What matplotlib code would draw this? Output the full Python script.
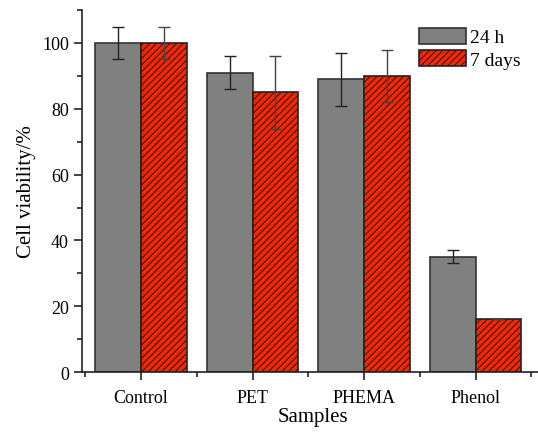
import numpy as np
import matplotlib
matplotlib.use("Agg")
import matplotlib.pyplot as plt
from matplotlib.ticker import MultipleLocator

plt.rcParams['font.family'] = ['Liberation Serif', 'DejaVu Serif']
plt.rcParams['hatch.linewidth'] = 0.8

# Данные
samples = ["Control", "PET", "PHEMA", "Phenol"]
h24 = [100, 91, 89, 35]
h24_err = [5, 5, 8, 2]
d7 = [100, 85, 90, 16]
d7_err = [5, 11, 8, 0]

x = np.arange(len(samples))
w = 0.41

fig = plt.figure(figsize=(5.38, 4.35), dpi=100)
ax = fig.add_axes([0.1524, 0.1425, 0.86, 0.832])

ax.bar(x - w / 2, h24, w, color="#808080", edgecolor="#333333", linewidth=1.2,
       label="24 h", zorder=2)
ax.bar(x + w / 2, d7, w, color="#ff2400", edgecolor="#222222", linewidth=1.2,
       hatch="/////", label="7 days", zorder=2)

ax.errorbar(x - w / 2, h24, yerr=h24_err, fmt="none", ecolor="#222222",
            elinewidth=1.0, capsize=4, capthick=1.0, zorder=3)
ax.errorbar(x + w / 2, d7, yerr=d7_err, fmt="none", ecolor="#444444",
            elinewidth=1.0, capsize=4, capthick=1.0, zorder=3)

ax.set_xlim(-0.53, 3.62)
ax.set_ylim(0, 110)
ax.set_xticks(x)
ax.set_xticklabels(samples)
ax.set_xticks(np.append(x - 0.5, 3.5), minor=True)
ax.yaxis.set_major_locator(MultipleLocator(20))
ax.yaxis.set_minor_locator(MultipleLocator(10))

ax.spines['top'].set_visible(False)
ax.spines['right'].set_visible(False)
for s in ('left', 'bottom'):
    ax.spines[s].set_linewidth(1.2)
    ax.spines[s].set_color("#222222")

ax.tick_params(axis='both', which='major', direction='out', length=6, width=1.2,
               labelsize=13, colors="#222222", labelcolor="black")
ax.tick_params(axis='x', which='major', pad=6)
ax.tick_params(axis='both', which='minor', direction='out', length=3.5, width=1.2,
               colors="#222222")

ax.set_xlabel("Samples", fontsize=15, labelpad=1)
ax.set_ylabel("Cell viability/%", fontsize=15)

ax.legend(loc="upper right", bbox_to_anchor=(0.985, 1.0), frameon=False,
          fontsize=14, handlelength=2.4, handleheight=0.9, handletextpad=0.2,
          labelspacing=0.2)

fig.savefig("out.png", dpi=100)
